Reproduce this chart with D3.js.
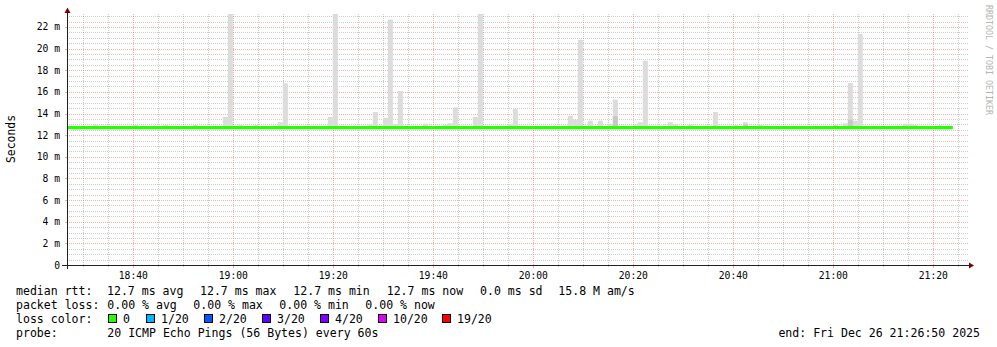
<!DOCTYPE html>
<html>
<head>
<meta charset="utf-8">
<script src="https://cdn.jsdelivr.net/npm/d3@7"></script>
<style>
  html, body { margin: 0; padding: 0; background: #ffffff; }
  svg { display: block; }
  text { font-family: "DejaVu Sans Mono", monospace; white-space: pre; }
</style>
</head>
<body>
<svg id="chart" width="997" height="347"></svg>
<script>
// ---------------- data ----------------
const dayStr = "2025-12-26";
const startTime = "18:26:50";
const endTime = "21:26:50";

// median rtt (ms) – constant over the whole period
const medianTimes = ["18:26:50", "21:24:00"];
const medianValues = [12.7, 12.7];

// smoke (ping spread), one bar per 60 s step: start minute and max rtt (ms)
const smokeTimes = ["18:32","18:40","18:46","18:52","18:58","18:59","19:01","19:04","19:09","19:10",
  "19:19","19:20","19:27","19:28","19:30","19:31","19:32","19:33","19:38","19:42",
  "19:43","19:44","19:48","19:49","19:55","19:56","20:07","20:08","20:09","20:11",
  "20:13","20:15","20:16","20:20","20:21","20:22","20:27","20:28","20:31","20:36",
  "20:40","20:42","20:45","21:00","21:02","21:03","21:04","21:05","21:14","21:15",
  "21:16","21:21"];
const smokeMax = [12.97,12.95,12.95,12.95,13.68,23.6,12.97,12.93,13.2,16.8,
  13.68,23.6,12.97,14.14,13.6,22.7,13.0,16.08,13.06,12.97,
  13.1,14.57,13.68,23.6,13.06,14.45,13.8,13.43,20.82,13.34,
  13.34,13.06,15.28,12.97,13.2,18.88,13.2,13.0,13.0,14.14,
  12.93,13.2,12.97,12.97,13.1,16.82,13.34,21.35,13.06,13.06,
  12.97,12.93];
const smokeMin = 12.6;
// denser inner smoke
const innerTimes = ["20:16","20:42","21:03"];
const innerMax = [13.74, 13.0, 13.43];

// axis ticks
const yMajorTicks = [0,2,4,6,8,10,12,14,16,18,20,22];
const yTickLabels = ["0","2 m","4 m","6 m","8 m","10 m","12 m","14 m","16 m","18 m","20 m","22 m"];
const xTickLabels = ["18:40","19:00","19:20","19:40","20:00","20:20","20:40","21:00","21:20"];

// legend
const legendRows = [
  ["median rtt:", "12.7 ms avg", "12.7 ms max", "12.7 ms min", "12.7 ms now", "0.0 ms sd", "15.8 M am/s"],
  ["packet loss:", "0.00 % avg", "0.00 % max", "0.00 % min", "0.00 % now"]
];
const lossLabels = ["0","1/20","2/20","3/20","4/20","10/20","19/20"];
const lossColors = ["#26ff00","#00b8ff","#0059ff","#5e00ff","#7e00ff","#dd00ff","#ff0000"];
const probeText = "20 ICMP Echo Pings (56 Bytes) every 60s";
const endText = "end: Fri Dec 26 21:26:50 2025";

// ---------------- drawing ----------------
const svg = d3.select("#chart");
const parse = d3.timeParse("%Y-%m-%d %H:%M:%S");
const T = s => parse(dayStr + " " + (s.length === 5 ? s + ":00" : s));

const L = 67, R = 967, B = 265, TOP = 14;
const x = d3.scaleTime().domain([T(startTime), T(endTime)]).range([L, R]);
const y = d3.scaleLinear().domain([0, 23.2]).range([B, TOP]);

const gridCol = "rgba(143,143,143,0.45)";
const mgridCol = "rgba(222,79,79,0.45)";

// minor horizontal grid
const yMinor = d3.range(1, 47).map(i => i * 0.5).filter(v => v % 2 !== 0);
svg.append("g").selectAll("line").data(yMinor).join("line")
  .attr("x1", L).attr("x2", R + 2)
  .attr("y1", d => Math.round(y(d)) + 0.5).attr("y2", d => Math.round(y(d)) + 0.5)
  .attr("stroke", gridCol).attr("stroke-dasharray", "1,1");

// minor vertical grid (5 min)
const xMinor = d3.timeMinute.every(5).range(T(startTime), T(endTime)).filter(d => d.getMinutes() % 20 !== 0);
svg.append("g").selectAll("line").data(xMinor).join("line")
  .attr("x1", d => Math.round(x(d)) + 0.5).attr("x2", d => Math.round(x(d)) + 0.5)
  .attr("y1", TOP).attr("y2", B)
  .attr("stroke", gridCol).attr("stroke-dasharray", "1,1");

// major grids
svg.append("g").selectAll("line").data(yMajorTicks.slice(1)).join("line")
  .attr("x1", L).attr("x2", R + 2)
  .attr("y1", d => Math.round(y(d)) + 0.5).attr("y2", d => Math.round(y(d)) + 0.5)
  .attr("stroke", mgridCol).attr("stroke-dasharray", "1,1");
const xMajor = xTickLabels.map(s => T(s));
svg.append("g").selectAll("line").data(xMajor).join("line")
  .attr("x1", d => Math.round(x(d)) + 0.5).attr("x2", d => Math.round(x(d)) + 0.5)
  .attr("y1", TOP).attr("y2", B)
  .attr("stroke", mgridCol).attr("stroke-dasharray", "1,1");

// clip
svg.append("clipPath").attr("id", "plotclip").append("rect")
  .attr("x", L).attr("y", TOP).attr("width", R - L).attr("height", B - TOP);
const plot = svg.append("g").attr("clip-path", "url(#plotclip)");

// smoke
const smoke = smokeTimes.map((t, i) => ({ t: T(t), v: smokeMax[i] }));
plot.append("g").selectAll("rect").data(smoke).join("rect")
  .attr("x", d => x(d.t))
  .attr("width", d => x(d3.timeMinute.offset(d.t, 1)) - x(d.t))
  .attr("y", d => y(d.v))
  .attr("height", d => y(smokeMin) - y(d.v))
  .attr("fill", "#dcdcdc");
const inner = innerTimes.map((t, i) => ({ t: T(t), v: innerMax[i] }));
plot.append("g").selectAll("rect").data(inner).join("rect")
  .attr("x", d => x(d.t))
  .attr("width", d => x(d3.timeMinute.offset(d.t, 1)) - x(d.t))
  .attr("y", d => y(d.v))
  .attr("height", d => y(smokeMin) - y(d.v))
  .attr("fill", "#c8c8c8");

// median line
const med = medianTimes.map((t, i) => ({ t: T(t), v: medianValues[i] }));
plot.append("path").datum(med)
  .attr("d", d3.line().x(d => x(d.t)).y(d => y(d.v)))
  .attr("fill", "none").attr("stroke", "#26ff00").attr("stroke-width", 3.2);

// axis ticks (small marks)
svg.append("g").selectAll("line").data(xMajor).join("line")
  .attr("x1", d => Math.round(x(d)) + 0.5).attr("x2", d => Math.round(x(d)) + 0.5)
  .attr("y1", B).attr("y2", B + 3).attr("stroke", mgridCol);
svg.append("g").selectAll("line").data(xMinor).join("line")
  .attr("x1", d => Math.round(x(d)) + 0.5).attr("x2", d => Math.round(x(d)) + 0.5)
  .attr("y1", B).attr("y2", B + 2).attr("stroke", gridCol);
svg.append("g").selectAll("line").data(yMajorTicks.slice(1)).join("line")
  .attr("x1", L - 2).attr("x2", L)
  .attr("y1", d => Math.round(y(d)) + 0.5).attr("y2", d => Math.round(y(d)) + 0.5)
  .attr("stroke", mgridCol);

// axes lines
svg.append("line").attr("x1", 62).attr("x2", R + 2).attr("y1", B + 0.5).attr("y2", B + 0.5)
  .attr("stroke", "#202020").attr("stroke-width", 1);
svg.append("line").attr("x1", L + 0.5).attr("x2", L + 0.5).attr("y1", B + 4).attr("y2", 11)
  .attr("stroke", "#202020").attr("stroke-width", 1);
// arrows
svg.append("path").attr("d", `M${R + 2},${B - 2.5} L${R + 7},${B + 0.5} L${R + 2},${B + 3.5} Z`).attr("fill", "#800000");
svg.append("path").attr("d", `M${L - 2.5},13 L${L + 0.5},7.5 L${L + 3.5},13 Z`).attr("fill", "#800000");

// y labels
svg.append("g").selectAll("text").data(yMajorTicks).join("text")
  .attr("x", 60).attr("y", d => y(d) + 3.5)
  .attr("text-anchor", "end").attr("font-size", "9.7px").attr("fill", "#000")
  .text((d, i) => yTickLabels[i]);

// x labels
svg.append("g").selectAll("text").data(xMajor).join("text")
  .attr("x", d => x(d) + 0.5).attr("y", 279)
  .attr("text-anchor", "middle").attr("font-size", "9.7px").attr("fill", "#000")
  .text((d, i) => xTickLabels[i]);

// y-axis title
svg.append("text").attr("transform", "translate(15,139) rotate(-90)")
  .attr("text-anchor", "middle").attr("font-size", "11.4px").attr("fill", "#000").text("Seconds");

// watermark
svg.append("text").attr("transform", "translate(985.5,5) rotate(90)")
  .attr("text-anchor", "start").attr("font-size", "8.3px").attr("fill", "#b4b4b4")
  .text("RRDTOOL / TOBI OETIKER");

// legend
const fs = "11.55px";
const rowY = [295, 309, 323, 337];
const row1X = [16, 107, 200, 293.3, 386.7, 480, 558.3];
const row2X = [16, 107.3, 193.3, 279.3, 365.3];
legendRows[0].forEach((s, i) => svg.append("text").attr("x", row1X[i]).attr("y", rowY[0]).attr("font-size", fs).text(s));
legendRows[1].forEach((s, i) => svg.append("text").attr("x", row2X[i]).attr("y", rowY[1]).attr("font-size", fs).text(s));
svg.append("text").attr("x", 16).attr("y", rowY[2]).attr("font-size", fs).text("loss color:");
const boxX = [108, 146, 204, 262, 320, 378, 442];
lossLabels.forEach((s, i) => {
  svg.append("rect").attr("x", boxX[i] + 0.5).attr("y", rowY[2] - 8.5).attr("width", 8).attr("height", 8)
    .attr("fill", lossColors[i]).attr("stroke", "#000").attr("stroke-width", 1);
  svg.append("text").attr("x", boxX[i] + 15).attr("y", rowY[2]).attr("font-size", fs).text(s);
});
svg.append("text").attr("x", 16).attr("y", rowY[3]).attr("font-size", fs).text("probe:");
svg.append("text").attr("x", 107.3).attr("y", rowY[3]).attr("font-size", fs).text(probeText);
svg.append("text").attr("x", 980).attr("y", rowY[3]).attr("text-anchor", "end").attr("font-size", fs).text(endText);
</script>
</body>
</html>
